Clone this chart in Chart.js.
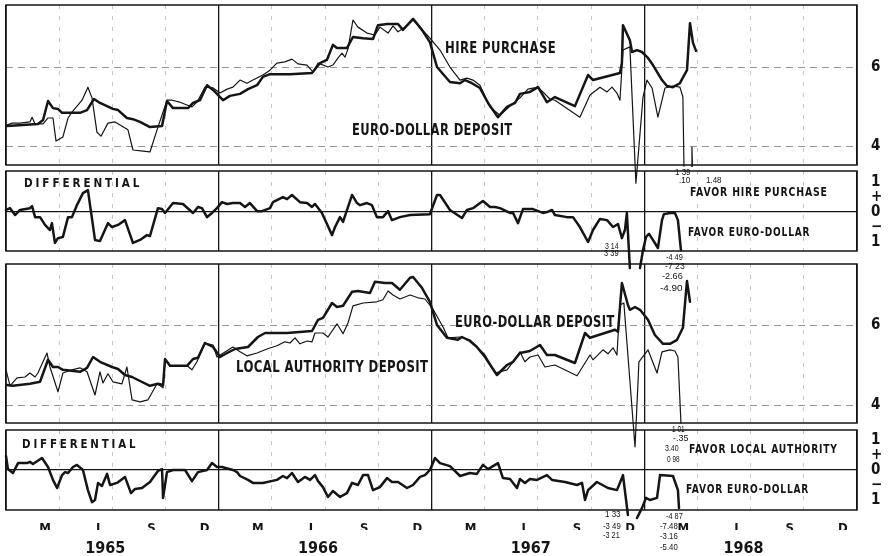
<!DOCTYPE html>
<html>
<head>
<meta charset="utf-8">
<title>Hire purchase, local authority and Euro-dollar deposit rates 1965-1968</title>
<script src="https://cdn.jsdelivr.net/npm/chart.js@4.4.0/dist/chart.umd.min.js"></script>
<style>
    html, body { margin: 0; padding: 0; background: #fff; }
    #wrap { position: relative; width: 894px; height: 556px; overflow: hidden; background: #fff; }
    #wrap canvas { position: absolute; left: 0; top: 0; }
    .lbl { position: absolute; white-space: nowrap; line-height: 1; color: #151515; transform-origin: 0 50%;
           font-family: "Liberation Sans Narrow", "DejaVu Sans Condensed", "Liberation Sans", sans-serif; font-weight: bold; z-index: 5; }
    .big { font-size: 16px; letter-spacing: 0.5px; }
    .mid { font-size: 12.5px; letter-spacing: 1px; }
    .wide { font-size: 12px; letter-spacing: 3px; }
    .num { font-size: 9.5px; font-weight: normal; font-family: "Liberation Sans", sans-serif; }
</style>
</head>
<body>
<div id="wrap">
    <canvas id="c1" width="894" height="556"></canvas>
    <canvas id="c2" width="894" height="556"></canvas>
    <canvas id="c3" width="894" height="556"></canvas>
    <canvas id="c4" width="894" height="556"></canvas>
</div>
<script>
// x values are months since 1 Jan 1965, y values are per cent
var monthLetters = ['M', 'J', 'S', 'D'];
var years = ['1965', '1966', '1967', '1968'];
var rateTicks = [4, 6];
var diffTicks = [-1, -0.5, 0, 0.5, 1];
var diffTickLabels = ['1', '\u2212', '0', '+', '1'];

// top panel: euro-dollar deposit (heavy line)
var euroHpX = [0.05,1.80,2.09,2.37,2.65,2.93,3.16,4.17,4.57,4.96,5.30,6.03,6.32,6.82,7.16,7.56,8.12,8.80,9.08,9.42,
    10.27,10.55,10.94,11.34,11.68,12.24,12.63,13.20,13.65,14.16,14.49,14.89,16.02,17.26,17.71,18.10,18.44,18.67,19.23,19.57,
    20.14,20.70,20.98,21.49,22.11,22.39,22.96,23.46,23.91,24.31,25.04,25.61,25.89,26.28,26.73,27.19,27.75,28.26,28.71,28.99,
    29.55,30.01,30.51,30.96,32.09,32.83,33.11,34.63,34.74,34.80,35.19,35.31,35.59,35.87,36.21,36.49,37.00,37.28,37.62,38.01,
    38.41,38.58,38.75,38.92];
var euroHpY = [4.51,4.56,4.66,5.14,4.96,4.94,4.84,4.84,4.91,5.19,5.09,4.94,4.91,4.71,4.68,4.61,4.48,4.51,5.14,4.96,
    4.96,5.09,5.16,5.54,5.42,5.16,5.27,5.32,5.44,5.54,5.75,5.82,5.82,5.85,6.10,6.18,6.56,6.48,6.48,6.76,
    6.73,6.71,7.06,7.09,7.09,6.94,7.22,6.94,6.63,6.00,5.62,5.59,5.67,5.59,5.47,5.09,4.73,4.99,5.09,5.32,
    5.37,5.49,5.11,5.24,5.01,5.80,5.67,5.85,6.10,7.06,6.68,6.38,6.43,6.38,6.23,6.05,5.67,5.52,5.49,5.59,
    5.92,7.11,6.61,6.41];

// top panel: hire purchase (light line)
var hirePurchaseX = [0.05,0.34,0.79,1.35,1.47,1.64,2.09,2.37,2.65,2.82,3.21,3.50,3.72,4.29,4.62,4.85,5.13,5.36,5.75,6.15,
    6.88,7.16,7.73,8.12,8.52,9.08,9.36,9.81,10.21,10.49,10.77,11.22,11.68,12.07,12.47,12.80,13.20,13.59,13.93,14.49,
    14.89,15.28,15.73,16.13,16.47,16.98,17.32,17.60,18.16,18.44,18.73,18.95,19.12,19.29,19.57,19.85,20.36,20.81,21.09,21.55,
    21.83,22.11,22.50,22.96,23.35,23.91,24.48,25.04,25.61,26.00,26.34,26.73,27.30,27.86,28.43,28.99,29.44,30.01,30.68,30.96,
    32.37,32.94,33.50,33.90,34.18,34.46,34.63,34.80,35.19,35.53,35.93,36.15,36.44,36.77,37.17,37.62,38.01,38.18,38.24,38.45,
    38.66,38.69,38.72];
var hirePurchaseY = [4.53,4.58,4.58,4.61,4.73,4.56,4.56,4.71,4.71,4.13,4.23,4.71,4.86,5.16,5.49,5.22,4.35,4.25,4.58,4.61,
    4.41,3.90,3.87,3.85,4.41,5.16,5.16,5.11,5.04,4.99,5.11,5.49,5.47,5.34,5.44,5.49,5.67,5.59,5.67,5.80,
    5.92,6.10,6.13,6.20,6.08,6.05,5.87,6.10,6.00,6.05,6.23,6.35,6.25,6.46,7.19,7.01,6.86,6.81,7.01,6.86,
    7.04,6.89,7.01,7.19,7.01,6.73,6.43,6.00,5.67,5.72,5.67,5.54,4.99,4.78,5.01,5.22,5.44,5.49,5.19,5.16,
    4.73,5.29,5.49,5.37,5.49,5.34,5.16,6.43,6.51,3.06,5.24,5.67,5.47,4.73,5.47,5.52,5.49,5.24,3.49,null,
    3.49,3.97,3.49];

// differential, hire purchase minus euro-dollar
var diffHpX = [0,0.23,0.51,0.79,1.35,1.47,1.64,1.92,2.20,2.48,2.59,2.76,2.93,3.21,3.50,3.72,4.00,4.34,4.62,5.02,
    5.30,5.75,5.98,6.32,6.71,7.16,7.56,7.95,8.12,8.57,8.80,8.97,9.42,9.98,10.55,10.83,11.05,11.34,11.62,11.90,
    12.18,12.47,12.80,13.20,13.48,13.76,14.16,14.44,14.89,15.06,15.62,15.85,16.13,16.58,16.98,17.26,17.43,17.82,18.39,18.56,
    18.84,19.01,19.52,19.80,19.97,20.36,20.64,20.92,21.26,21.55,21.77,22.22,22.79,23.91,24.31,24.48,25.04,25.72,26.00,26.34,
    26.90,27.30,27.58,27.86,28.43,28.60,28.88,29.16,29.72,30.29,30.51,30.80,30.96,31.64,31.98,32.37,32.83,33.11,33.50,33.90,
    34.24,34.52,34.74,34.91,35.02,35.19,35.50,35.76,35.93,36.10,36.27,36.49,36.77,37.00,37.11,37.45,37.73,37.90,38.07];
var diffHpY = [0.07,0.13,-0.10,0.07,0.13,0.20,-0.17,-0.17,-0.43,-0.60,-0.37,-1.03,-0.87,-0.83,-0.17,-0.17,0.23,0.63,0.73,-0.93,
    -0.97,-0.37,-0.50,-0.43,-0.27,-1.03,-0.93,-0.77,-0.80,0.13,0.10,-0.03,0.30,0.27,-0.03,0.17,0.13,-0.17,-0.03,0.13,
    0.33,0.27,0.30,0.30,0.17,0.30,0.03,0.03,0.13,0.33,0.50,0.43,0.57,0.33,0.30,0.17,0.27,-0.03,-0.77,-0.50,
    -0.17,-0.33,0.57,0.30,0.23,0.30,0.23,-0.17,-0.17,0.03,-0.27,-0.17,-0.10,-0.07,0.57,0.57,0.07,-0.20,0.07,0.13,
    0.37,0.17,0.17,0.13,-0.03,-0.03,-0.37,0.10,0.10,-0.03,0,0.07,-0.10,-0.17,-0.17,-0.50,-1.00,-0.60,-0.23,-0.27,
    -0.50,-0.40,-0.87,-0.60,-0.03,-1.87,null,-1.87,-1.27,-0.83,-0.73,-0.93,-1.20,-0.27,-0.07,-0.03,-0.03,-0.27,-1.27];

// third panel: euro-dollar deposit (heavy line)
var euroLaX = [0.05,0.39,1.35,1.92,2.37,2.65,2.93,3.21,4.17,4.57,4.91,5.30,5.98,6.32,6.71,7.11,7.56,8.12,8.57,8.86,
    8.97,9.25,10.21,10.55,10.83,11.22,11.68,12.07,12.47,12.92,13.65,14.21,14.61,15.85,17.26,17.60,17.88,18.39,18.67,19.01,
    19.52,19.85,20.53,20.81,21.38,21.77,22.22,22.79,22.96,23.46,23.91,24.31,24.87,25.49,25.72,26.17,26.56,27.02,27.69,28.26,
    28.60,28.99,29.55,30.12,30.51,30.96,32.09,32.66,32.94,34.35,34.52,34.63,34.74,35.08,35.19,35.48,35.76,36.21,36.60,37.06,
    37.45,37.85,38.18,38.41,38.58];
var euroLaY = [4.50,4.48,4.53,4.58,5.13,4.95,4.95,4.88,4.83,4.93,5.20,5.08,4.95,4.90,4.75,4.70,4.60,4.48,4.53,4.50,
    5.15,4.98,4.98,5.15,5.18,5.55,5.45,5.20,5.30,5.40,5.45,5.70,5.80,5.80,5.85,6.13,6.18,6.55,6.45,6.48,
    6.83,6.85,6.80,7.08,7.05,7.05,6.88,7.18,7.20,6.93,6.58,6.00,5.68,5.63,5.70,5.60,5.45,5.20,4.75,5.00,
    5.08,5.30,5.35,5.50,5.25,5.25,5.05,5.80,5.68,5.88,5.83,6.45,7.05,6.50,6.38,6.45,6.38,6.13,5.75,5.53,
    5.53,5.63,5.93,7.10,6.58];

// third panel: local authority deposit (light line)
var localAuthX = [0,0.23,0.62,1.07,1.35,1.64,1.80,2.31,2.48,2.93,3.21,3.72,4.17,4.57,5.02,5.30,5.47,5.75,6.03,6.54,
    6.82,7.11,7.56,8.01,8.52,8.86,8.97,9.25,10.21,10.49,10.77,11.22,11.68,11.90,12.80,13.20,13.59,14.16,14.72,15.28,
    15.73,16.02,16.30,16.58,16.98,17.26,17.43,17.88,18.16,18.67,19.01,19.29,19.57,20.14,20.92,21.26,21.55,21.83,22.22,22.79,
    23.24,23.63,24.08,24.65,24.93,25.61,26.17,26.56,27.02,27.58,28.26,28.60,28.99,29.27,29.55,30.01,30.40,30.96,32.21,32.94,
    33.11,33.67,33.95,34.24,34.46,34.63,34.85,35.48,35.70,36.21,36.72,37.00,37.45,37.73,37.90,38.07];
var localAuthY = [4.88,4.48,4.68,4.70,4.80,4.70,4.80,5.30,4.95,4.33,4.80,4.88,4.93,4.83,4.25,4.83,4.55,4.78,4.58,4.53,
    4.95,4.13,4.08,4.13,4.53,4.43,5.15,4.98,4.98,4.88,5.08,5.55,5.50,5.20,5.45,5.33,5.23,5.30,5.40,5.48,
    5.58,5.55,5.68,5.53,5.60,5.58,5.80,5.80,5.70,6.03,5.78,6.05,6.48,6.55,6.58,6.63,6.85,6.75,6.65,6.75,
    6.68,6.65,6.40,5.95,5.68,5.70,5.63,5.45,5.25,4.80,4.88,5.08,5.33,5.08,5.20,5.25,4.95,5.00,4.73,5.25,
    5.13,5.38,5.28,5.43,5.25,6.50,6.55,2.95,5.08,5.38,4.80,5.33,5.38,5.35,5.20,3.55];

// differential, local authority minus euro-dollar
var diffLaX = [0,0.11,0.39,0.68,1.18,1.35,1.52,2.03,2.37,2.65,2.88,3.16,3.33,3.50,3.78,4.00,4.34,4.62,4.85,5.02,
    5.19,5.41,5.70,5.87,6.26,6.71,7.05,7.28,7.67,8.12,8.57,8.80,8.86,9.08,9.42,10.10,10.49,10.83,11.34,11.62,
    11.90,12.18,12.80,13.03,13.20,13.65,13.93,14.49,15.28,15.62,15.85,16.13,16.47,16.86,17.15,17.43,17.60,17.88,18.16,18.44,
    18.84,19.23,19.52,19.85,20.14,20.42,20.70,21.09,21.49,21.77,22.11,22.62,22.96,23.35,23.63,23.91,24.20,24.48,25.04,25.61,
    26.17,26.56,26.90,27.19,27.75,28.03,28.43,28.82,28.99,29.27,29.55,29.95,30.51,30.80,31.53,32.21,32.49,32.66,32.83,33.33,
    33.95,34.46,34.74,34.80,35.08,35.35,35.59,35.87,36.10,36.32,36.72,36.89,37.62,37.90,37.96];
var diffLaY = [0.47,0.03,-0.10,0.23,0.23,0.27,0.20,0.40,0.10,-0.33,-0.60,-0.17,-0.07,-0.10,0.10,0.17,0,-0.67,-1.07,-1.00,
    -0.43,-0.53,-0.13,-0.50,-0.43,-0.23,-0.77,-0.63,-0.60,-0.40,-0.03,0.03,-0.93,-0.07,0,0,-0.37,-0.07,0,0.23,
    0.10,0.10,0,-0.07,-0.20,-0.33,-0.43,-0.43,-0.33,-0.20,-0.27,-0.10,-0.40,-0.23,-0.33,-0.17,-0.37,-0.57,-0.90,-0.70,
    -0.90,-0.77,-0.43,-0.50,-0.17,-0.17,-0.67,-0.57,-0.27,-0.40,-0.40,-0.60,-0.50,-0.23,-0.17,0,0.40,0.23,0.13,-0.20,
    -0.10,-0.13,0.17,0.03,0.23,-0.27,-0.30,-0.60,-0.30,-0.43,-0.30,-0.33,-0.17,-0.33,-0.40,-0.50,-0.43,-1.00,-0.67,-0.40,
    -0.60,-0.67,-0.27,-0.17,-1.50,null,-1.60,-1.27,-0.93,-1.00,-0.93,-0.17,-0.20,-0.67,-1.27];

var INK = '#151515';
var NARROW = '"Liberation Sans Narrow", "DejaVu Sans Condensed", "Liberation Sans", sans-serif';

function pts(xs, ys) {
    return xs.map(function (x, i) { return { x: x, y: ys[i] }; });
}

function isYear(v) { return v % 12 === 0; }

var boxPlugin = {
    id: 'box',
    afterDraw: function (chart) {
        var a = chart.chartArea;
        var ctx = chart.ctx;
        ctx.save();
        ctx.strokeStyle = INK;
        ctx.lineWidth = 1.5;
        ctx.strokeRect(a.left, a.top, a.right - a.left, a.bottom - a.top);
        ctx.restore();
    }
};

function noPad(s) { s.paddingLeft = 0; s.paddingRight = 0; s.paddingTop = 0; s.paddingBottom = 0; }

function timeGrid() {
    return {
        type: 'linear', min: 0, max: 48, position: 'bottom', weight: 0,
        afterBuildTicks: function (s) {
            var t = [];
            for (var m = 0; m <= 48; m += 3) t.push({ value: m });
            s.ticks = t;
        },
        afterFit: function (s) { s.height = 0; noPad(s); },
        ticks: { display: false },
        grid: {
            drawTicks: false,
            color: function (c) { return isYear(c.tick.value) ? INK : '#b8b8b8'; },
            lineWidth: function (c) { return isYear(c.tick.value) ? 1.3 : 0.8; }
        },
        border: { display: false, dash: function (c) { return c.tick && isYear(c.tick.value) ? [] : [4, 7]; } }
    };
}

function rateAxis(min, max) {
    return {
        type: 'linear', position: 'right', min: min, max: max,
        afterBuildTicks: function (s) { s.ticks = rateTicks.map(function (v) { return { value: v }; }); },
        afterFit: function (s) { s.width = 37; noPad(s); },
        ticks: { autoSkip: false, color: INK, padding: 14, font: { family: NARROW, weight: 'bold', size: 15 } },
        grid: { drawTicks: false, color: '#8a8a8a', lineWidth: 0.9 },
        border: { display: false, dash: [7, 5] }
    };
}

function diffAxis(min, max) {
    return {
        type: 'linear', position: 'right', min: min, max: max,
        afterBuildTicks: function (s) { s.ticks = diffTicks.map(function (v) { return { value: v }; }); },
        afterFit: function (s) { s.width = 37; noPad(s); },
        ticks: {
            autoSkip: false, color: INK, padding: 14, font: { family: NARROW, weight: 'bold', size: 15 },
            callback: function (v) { return diffTickLabels[diffTicks.indexOf(v)]; }
        },
        grid: {
            drawTicks: false,
            color: function (c) { return c.tick.value === 0 ? INK : 'rgba(0,0,0,0)'; },
            lineWidth: 1.3
        },
        border: { display: false }
    };
}

function series(data, heavy) {
    return {
        data: data, borderColor: INK, borderWidth: heavy ? 2.5 : 1.2,
        pointRadius: 0, tension: 0, clip: false, spanGaps: false,
        borderJoinStyle: 'round', borderCapStyle: 'round'
    };
}

function makeChart(id, pad, yAxis, datasets, extra) {
    var scales = { x: timeGrid(), y: yAxis };
    if (extra) Object.keys(extra).forEach(function (k) { scales[k] = extra[k]; });
    return new Chart(document.getElementById(id), {
        type: 'line',
        data: { datasets: datasets },
        options: {
            responsive: false, animation: false, devicePixelRatio: 1, events: [],
            layout: { padding: pad },
            plugins: { legend: { display: false }, tooltip: { enabled: false } },
            scales: scales
        },
        plugins: [boxPlugin]
    });
}

makeChart('c1', { left: 6, right: 0, top: 5, bottom: 391 }, rateAxis(3.52, 7.57), [
    series(pts(euroHpX, euroHpY), true),
    series(pts(hirePurchaseX, hirePurchaseY), false)
]);

makeChart('c2', { left: 6, right: 0, top: 171, bottom: 305 }, diffAxis(-1.3, 1.37), [
    series(pts(diffHpX, diffHpY), true)
]);

makeChart('c3', { left: 6, right: 0, top: 264, bottom: 133 }, rateAxis(3.55, 7.525), [
    series(pts(euroLaX, euroLaY), true),
    series(pts(localAuthX, localAuthY), false)
]);

makeChart('c4', { left: 6, right: 0, top: 430, bottom: 2 }, diffAxis(-1.333, 1.333), [
    series(pts(diffLaX, diffLaY), true)
], {
    months: {
        type: 'linear', min: 0, max: 48, position: 'bottom', weight: 1,
        afterBuildTicks: function (s) {
            var t = [];
            years.forEach(function (y, i) {
                monthLetters.forEach(function (m, j) { t.push({ value: i * 12 + j * 3 + 2.2 }); });
            });
            s.ticks = t;
        },
        afterFit: function (s) { s.height = 20; noPad(s); },
        ticks: {
            autoSkip: false, maxRotation: 0, color: INK, padding: 11,
            font: { family: NARROW, weight: 'bold', size: 13 },
            callback: function (v, i) { return monthLetters[i % 4]; }
        },
        grid: { display: false, drawTicks: false },
        border: { display: false }
    },
    years: {
        type: 'linear', min: 0, max: 48, position: 'bottom', weight: 2,
        afterBuildTicks: function (s) {
            s.ticks = years.map(function (y, i) { return { value: i * 12 + 5.6 }; });
        },
        afterFit: function (s) { s.height = 24; noPad(s); },
        ticks: {
            autoSkip: false, maxRotation: 0, color: INK, padding: 9,
            font: { family: NARROW, weight: 'bold', size: 16 },
            callback: function (v, i) { return years[i]; }
        },
        grid: { display: false, drawTicks: false },
        border: { display: false }
    }
});

// text on the panels: [text, left, centre y, width, class]
var notes = [
    ['HIRE PURCHASE', 445, 48, 111, 'big'],
    ['EURO-DOLLAR DEPOSIT', 352, 130, 161, 'big'],
    ['DIFFERENTIAL', 24, 183, 118, 'wide'],
    ['FAVOR HIRE PURCHASE', 690, 192, 138, 'mid'],
    ['FAVOR EURO-DOLLAR', 688, 232, 122, 'mid'],
    ['1 39', 675, 172, 16, 'num'],
    ['.10', 679, 180, 11, 'num'],
    ['1.48', 706, 180, 16, 'num'],
    ['3 14', 605, 246, 14, 'num'],
    ['3 39', 604, 253, 15, 'num'],
    ['-4 49', 666, 257, 17, 'num'],
    ['-7 23', 665, 266, 20, 'num'],
    ['-2.66', 662, 276, 21, 'num'],
    ['-4.90', 660, 288, 23, 'num'],
    ['EURO-DOLLAR DEPOSIT', 455, 322, 160, 'big'],
    ['LOCAL AUTHORITY DEPOSIT', 236, 367, 192, 'big'],
    ['DIFFERENTIAL', 22, 444, 116, 'wide'],
    ['FAVOR LOCAL AUTHORITY', 689, 449, 149, 'mid'],
    ['FAVOR EURO-DOLLAR', 686, 489, 123, 'mid'],
    ['1 01', 672, 429, 13, 'num'],
    ['-.35', 673, 438, 15, 'num'],
    ['3.40', 665, 448, 14, 'num'],
    ['0 98', 667, 459, 13, 'num'],
    ['1 33', 605, 514, 16, 'num'],
    ['-3 49', 603, 526, 18, 'num'],
    ['-3 21', 603, 535, 17, 'num'],
    ['-4 87', 666, 516, 17, 'num'],
    ['-7.48', 660, 526, 18, 'num'],
    ['-3.16', 660, 536, 18, 'num'],
    ['-5.40', 660, 547, 18, 'num']
];

var wrap = document.getElementById('wrap');
notes.forEach(function (n) {
    var el = document.createElement('div');
    el.className = 'lbl ' + n[4];
    el.textContent = n[0];
    wrap.appendChild(el);
    var w = el.offsetWidth;
    var h = el.offsetHeight;
    el.style.left = n[1] + 'px';
    el.style.top = (n[2] - h / 2) + 'px';
    el.style.transform = 'scaleX(' + (n[3] / w).toFixed(3) + ')';
});
</script>
</body>
</html>
